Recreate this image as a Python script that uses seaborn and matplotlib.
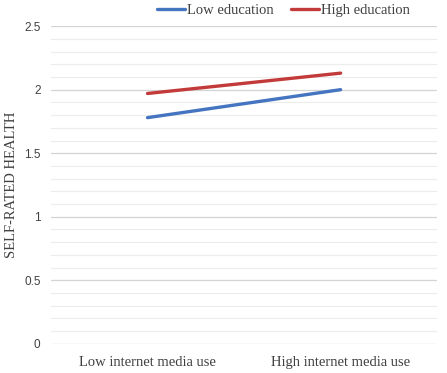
import numpy as np
import pandas as pd
import matplotlib.pyplot as plt
import seaborn as sns

# Data
categories = ["Low internet media use", "High internet media use"]
low_education = [1.78, 2.00]
high_education = [1.97, 2.13]
series_names = ["Low education", "High education"]
y_ticks = [0, 0.5, 1, 1.5, 2, 2.5]

df = pd.DataFrame({
    "use": categories * 2,
    "health": low_education + high_education,
    "group": [series_names[0]] * 2 + [series_names[1]] * 2,
})
df["x"] = [0, 1, 0, 1]

sns.set_style("white")
plt.rcParams['font.family'] = ['Liberation Serif', 'DejaVu Serif']

fig = plt.figure(figsize=(4.47, 3.73), dpi=100)
ax = fig.add_axes([0.114, 0.078, 0.864, 0.852])

sns.lineplot(data=df, x="x", y="health", hue="group",
             palette={"Low education": "#4574C0", "High education": "#C23B3A"},
             linewidth=2.4, ax=ax, legend=True)

ax.set_xlim(-0.5, 1.5)
ax.set_ylim(0, 2.5)
ax.set_xticks([0, 1])
ax.set_xticklabels(categories, fontsize=10.5, color="#404040")
ax.set_yticks(y_ticks)
ax.set_yticklabels(["0", "0.5", "1", "1.5", "2", "2.5"], family="Liberation Sans",
                   fontsize=8.5, color="#404040")
ax.set_yticks(np.arange(0, 2.5, 0.1), minor=True)
ax.grid(True, which="major", axis="y", color="#d4d4d4", linewidth=0.9)
ax.grid(True, which="minor", axis="y", color="#ececec", linewidth=0.8)
ax.tick_params(axis="both", which="both", length=0)
ax.tick_params(axis="x", pad=9)
ax.tick_params(axis="y", pad=7.5)
ax.set_xlabel("")
ax.set_ylabel("SELF-RATED HEALTH", fontsize=10.5, color="#404040")
ax.yaxis.set_label_coords(-0.085, 0.5)
for s in ax.spines.values():
    s.set_visible(False)

ax.legend(loc="center", bbox_to_anchor=(0.602, 1.05), ncol=2, frameon=False,
          fontsize=10.5, handlelength=1.9, handletextpad=0.15, columnspacing=1.2,
          borderpad=0, labelcolor="#404040")

fig.savefig("out.png", dpi=100)
